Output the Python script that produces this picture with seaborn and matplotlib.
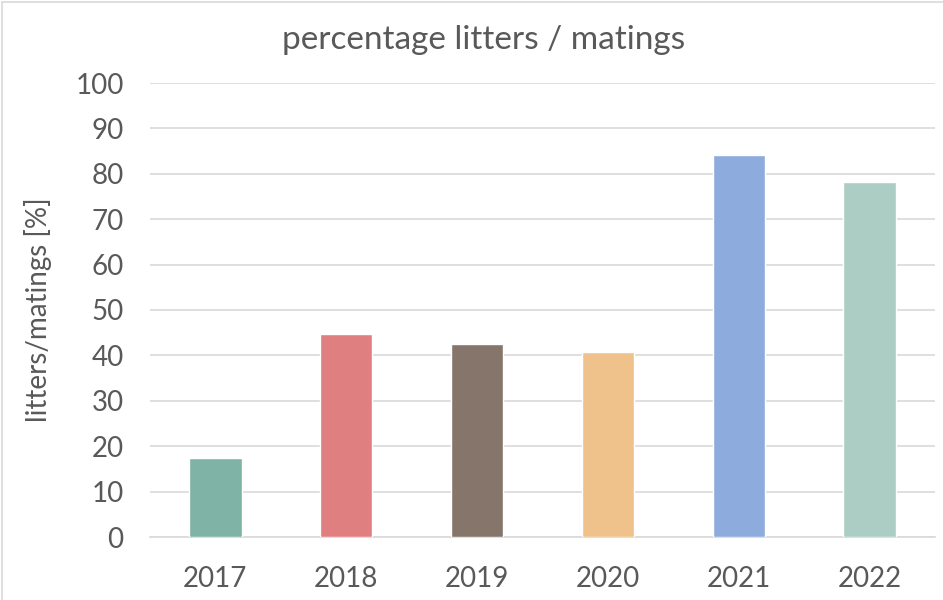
import matplotlib
matplotlib.use("Agg")
import matplotlib.pyplot as plt
import pandas as pd
import seaborn as sns
from matplotlib.patches import Rectangle

years = ["2017", "2018", "2019", "2020", "2021", "2022"]
ratio = [17.3, 44.7, 42.6, 40.7, 84.1, 78.3]
bar_colors = ["#7fb3a5", "#e07f80", "#85756b", "#eec28a", "#8eabdd", "#abcdc3"]

sns.set_theme(style="white")
plt.rcParams['font.family'] = ['Lato', 'DejaVu Sans']
text_gray = "#595959"

df = pd.DataFrame({"year": years, "ratio": ratio})

fig = plt.figure(figsize=(9.43, 6.0), dpi=100)
ax = fig.add_axes([150 / 943, (600 - 537) / 600, (935 - 150) / 943, (537 - 83) / 600])

sns.barplot(data=df, x="year", y="ratio", hue="year", palette=bar_colors,
            width=0.4, legend=False, saturation=1, ax=ax, zorder=3)

ax.set_ylim(0, 100)
ax.set_yticks(range(0, 101, 10))
ax.set_xlim(-0.5, 5.5)
ax.yaxis.grid(True, color="#d9d9d9", linewidth=1.2, zorder=0)
ax.set_axisbelow(True)
for s in ["top", "right", "left"]:
    ax.spines[s].set_visible(False)
ax.spines["bottom"].set_color("#d9d9d9")
ax.spines["bottom"].set_linewidth(1.2)
ax.tick_params(axis="both", length=0, labelsize=20, colors=text_gray)
ax.tick_params(axis="y", pad=19)
ax.tick_params(axis="x", pad=21)

ax.set_xlabel("")
ax.set_ylabel("litters/matings [%]", fontsize=20, color=text_gray, labelpad=17)
fig.suptitle("percentage litters / matings", fontsize=24, color=text_gray, x=0.513, y=0.958)

# thin light-grey chart-area border (visible on top and left, as in the original)
fig.patches.append(Rectangle((0.002, -0.01), 1.2, 1.006, transform=fig.transFigure,
                             fill=False, edgecolor="#d9d9d9", linewidth=1.2))

fig.savefig("out.png", dpi=100)
